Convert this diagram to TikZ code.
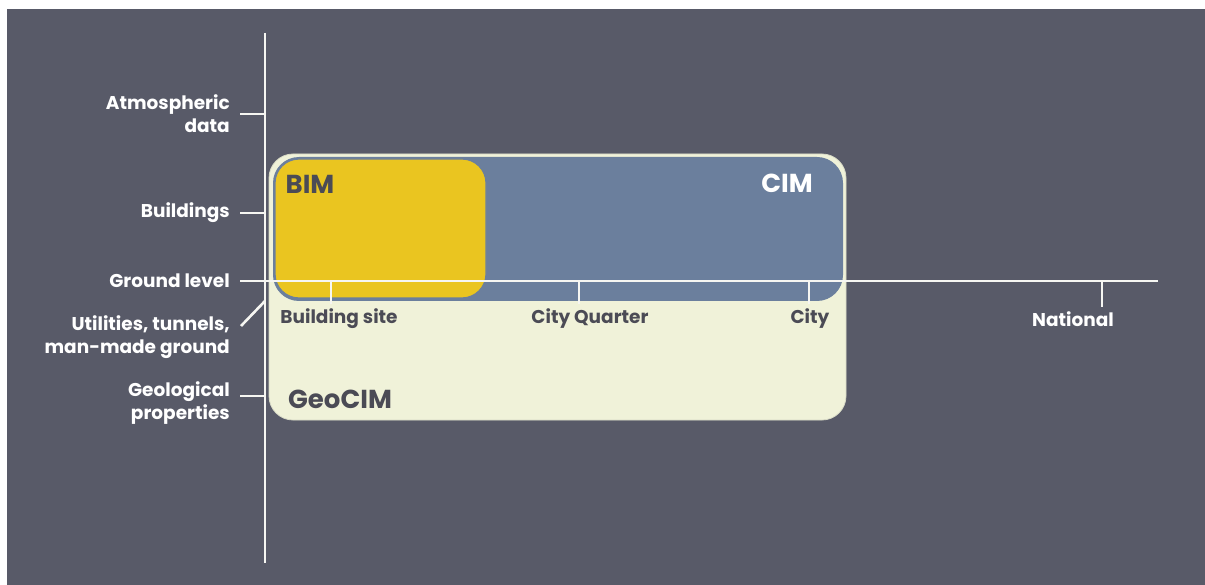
\documentclass[tikz,border=0pt]{standalone}
\usepackage{fontspec}
\setmainfont{Poppins}
\usetikzlibrary{positioning}
\definecolor{bgdark}{HTML}{585A68}
\definecolor{cimblue}{HTML}{6B7F9D}
\definecolor{bimyellow}{HTML}{EAC520}
\definecolor{geocream}{HTML}{F0F2D9}
\definecolor{labeldark}{HTML}{4B4B55}
\definecolor{axiswhite}{HTML}{F6F6F2}

\begin{document}
\begin{tikzpicture}[x=1pt,y=-1pt,
  axis/.style={axiswhite,line width=2.6pt},
  lefttext/.style={anchor=east,align=right,text=white,inner sep=0pt,
    font=\bfseries\fontsize{18.5}{23}\selectfont},
  scaletext/.style={anchor=center,inner sep=0pt,
    font=\bfseries\fontsize{18.5}{23}\selectfont},
  boxtext/.style={anchor=center,inner sep=0pt,font=\bfseries\fontsize{26}{28}\selectfont}]
\useasboundingbox (0,0) rectangle (1205,585);
\fill[white] (0,0) rectangle (1205,585);
\fill[bgdark] (7,9) rectangle (1205,585);

% model boxes
\draw[fill=geocream,draw=geocream!80!gray,line width=0.8pt,rounded corners=24pt] (269,154) rectangle (846,420);
\fill[cimblue,rounded corners=26pt] (273,157) rectangle (843,301);
\draw[fill=bimyellow,draw=cimblue,line width=1.2pt,rounded corners=24pt] (275,159) rectangle (486,298);

\node[boxtext,text=labeldark] (bim) at (310,184) {BIM};
\node[boxtext,text=white] (cim) at (787,183) {CIM};
\node[boxtext,text=labeldark] (geocim) at (340,399) {GeoCIM};

% axes
\coordinate (vtop) at (265,33);
\coordinate (vbot) at (265,563);
\coordinate (hleft) at (240,281);
\coordinate (hright) at (1158,281);
\draw[axis] (vtop) -- (vbot);
\draw[axis] (hleft) -- (hright);

% vertical scale
\node[lefttext] (atmos) at (230,114) {Atmospheric\\data};
\node[lefttext] (build) at (230,213) {Buildings};
\node[lefttext] (ground) at (230,281) {Ground level};
\node[lefttext] (util) at (230,337) {Utilities, tunnels,\\man-made ground};
\node[lefttext] (geol) at (230,403) {Geological\\properties};

\coordinate (tatmos) at (240,114);
\coordinate (tbuild) at (240,213);
\coordinate (tutil) at (241,326);
\coordinate (tutiltop) at (265,301);
\coordinate (tgeol) at (240,396);
\draw[axis] (tatmos) -- (tatmos -| vtop);
\draw[axis] (tbuild) -- (tbuild -| vtop);
\draw[axis] (tutil) -- (tutiltop);
\draw[axis] (tgeol) -- (tgeol -| vtop);

% horizontal scale
\coordinate (tsite) at (331,304);
\coordinate (tquarter) at (579,304);
\coordinate (tcity) at (809,304);
\coordinate (tnation) at (1102,307);
\foreach \t in {tsite,tquarter,tcity,tnation}
  \draw[axis] (\t) -- (\t |- hleft);

\node[scaletext,text=labeldark] (site) at (339,319) {Building site};
\node[scaletext,text=labeldark] (quarter) at (590,319) {City Quarter};
\node[scaletext,text=labeldark] (city) at (810,319) {City};
\node[scaletext,text=white] (nation) at (1073,319) {National};
\end{tikzpicture}
\end{document}
